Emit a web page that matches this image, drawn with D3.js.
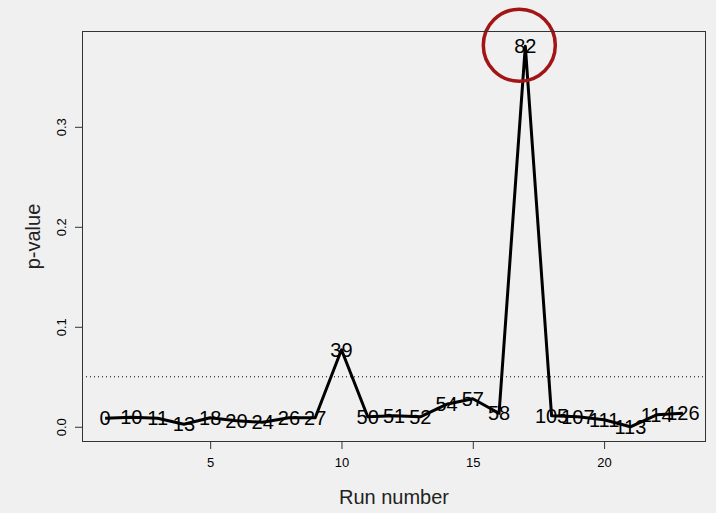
<!DOCTYPE html>
<html>
<head>
<meta charset="utf-8">
<script src="https://cdn.jsdelivr.net/npm/d3@7"></script>
<style>
  html, body { margin: 0; padding: 0; background: #f0f0f0; }
  svg { display: block; font-family: "Liberation Sans", Arial, sans-serif; }
</style>
</head>
<body>
<svg id="chart" width="716" height="513"></svg>
<script>
// Run index and p-value for each run, with the run id used as point label
const runs = d3.range(1, 24);
const pValues = [0.0085, 0.0095, 0.0085, 0.0025, 0.009, 0.006, 0.0045, 0.009, 0.009, 0.077,
                 0.010, 0.011, 0.010, 0.0225, 0.028, 0.0135, 0.3806, 0.011, 0.010, 0.007,
                 0.000, 0.012, 0.0135];
const runIds = ["0", "10", "11", "13", "18", "20", "24", "26", "27", "39",
                "50", "51", "52", "54", "57", "58", "82", "105", "107", "111",
                "113", "114", "126"];
const xTicks = [5, 10, 15, 20];
const yTicks = [0.0, 0.1, 0.2, 0.3];
const threshold = 0.05;
const highlightRun = 17;

const svg = d3.select("#chart");
const plot = { left: 82, right: 706, top: 31, bottom: 442 };

// R-style axis ranges: data extent padded by 4% each side
function padded(ext) {
  const r = ext[1] - ext[0];
  return [ext[0] - 0.04 * r, ext[1] + 0.04 * r];
}
const x = d3.scaleLinear().domain(padded(d3.extent(runs))).range([plot.left, plot.right]);
const y = d3.scaleLinear().domain(padded(d3.extent(pValues))).range([plot.bottom, plot.top]);

const data = runs.map((r, i) => ({ run: r, p: pValues[i], id: runIds[i] }));

// threshold line
svg.append("line")
  .attr("x1", plot.left).attr("x2", plot.right)
  .attr("y1", y(threshold)).attr("y2", y(threshold))
  .attr("stroke", "#000").attr("stroke-width", 1)
  .attr("stroke-dasharray", "1,3");

// p-value line
svg.append("path")
  .datum(data)
  .attr("fill", "none")
  .attr("stroke", "#000")
  .attr("stroke-width", 3)
  .attr("stroke-linejoin", "round")
  .attr("d", d3.line().x(d => x(d.run)).y(d => y(d.p)));

// run id labels centred on each point
svg.append("g").selectAll("text")
  .data(data).join("text")
  .attr("x", d => x(d.run))
  .attr("y", d => y(d.p))
  .attr("dy", "0.36em")
  .attr("text-anchor", "middle")
  .attr("font-size", 20)
  .attr("fill", "#000")
  .text(d => d.id);

// highlight circle around the outlying run
const hl = data.find(d => d.run === highlightRun);
svg.append("circle")
  .attr("cx", x(hl.run) - 6)
  .attr("cy", y(hl.p) - 1)
  .attr("r", 36)
  .attr("fill", "none")
  .attr("stroke", "#a31515")
  .attr("stroke-width", 3.5);

// plot box
svg.append("rect")
  .attr("x", plot.left + 0.5).attr("y", plot.top + 0.5)
  .attr("width", plot.right - plot.left - 1).attr("height", plot.bottom - plot.top - 1)
  .attr("fill", "none").attr("stroke", "#333").attr("stroke-width", 1);

// x axis
const xAxis = d3.axisBottom(x).tickValues(xTicks).tickSize(7).tickPadding(9).tickFormat(d3.format("d"));
const gx = svg.append("g").attr("transform", `translate(0,${plot.bottom})`).call(xAxis);
gx.select(".domain").remove();
gx.selectAll("text").attr("font-size", 13).attr("fill", "#000").style("font-family", "Liberation Sans, Arial, sans-serif");
gx.selectAll("line").attr("stroke", "#333");

// y axis, labels parallel to axis
const yAxis = d3.axisLeft(y).tickValues(yTicks).tickSize(7).tickFormat(d3.format(".1f"));
const gy = svg.append("g").attr("transform", `translate(${plot.left},0)`).call(yAxis);
gy.select(".domain").remove();
gy.selectAll("line").attr("stroke", "#333");
gy.selectAll("text")
  .attr("font-size", 13).attr("fill", "#000")
  .style("font-family", "Liberation Sans, Arial, sans-serif")
  .attr("x", null).attr("dy", null)
  .attr("text-anchor", "middle")
  .attr("transform", "translate(-16,0) rotate(-90)")
  .attr("y", 0);

// axis titles
svg.append("text")
  .attr("x", (plot.left + plot.right) / 2).attr("y", 504)
  .attr("text-anchor", "middle").attr("font-size", 20).attr("fill", "#222")
  .text("Run number");
svg.append("text")
  .attr("transform", `translate(40,${(plot.top + plot.bottom) / 2}) rotate(-90)`)
  .attr("text-anchor", "middle").attr("font-size", 20).attr("fill", "#222")
  .text("p-value");
</script>
</body>
</html>
